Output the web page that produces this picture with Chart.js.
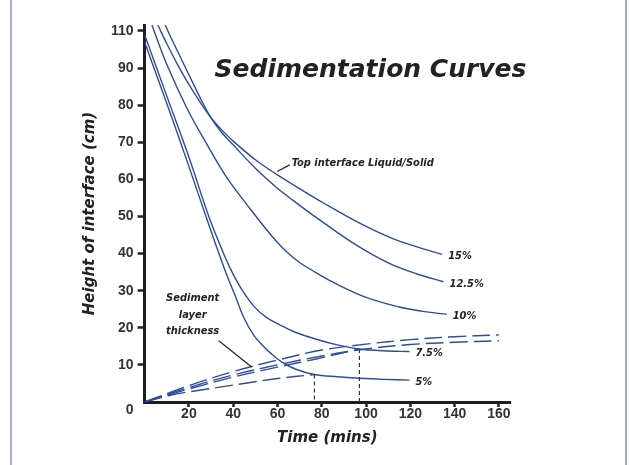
<!DOCTYPE html>
<html>
<head>
<meta charset="utf-8">
<script src="https://cdn.jsdelivr.net/npm/chart.js@4.4.1/dist/chart.umd.min.js"></script>
<style>
  html, body { margin: 0; padding: 0; background: #fff; }
  canvas { display: block; }
</style>
</head>
<body>
<canvas id="myChart" width="629" height="465"></canvas>
<script>
// curve data: time (mins) / height of interface (cm)
const t5 = [0, 10, 20, 28, 36, 41, 45, 49.5, 54, 57, 61.7, 68, 76.7, 87, 97, 108, 119.6]
const h5 = [97, 80.5, 63.5, 49.5, 36, 28.5, 22.5, 17.8, 14.8, 13.1, 10.9, 8.9, 7.4, 6.8, 6.4, 6.1, 5.9]

const t75 = [0, 10, 20, 29, 35, 39, 44, 49.5, 55, 61, 68, 77.5, 87, 97, 108, 119.6]
const h75 = [99, 82.5, 66, 50, 41, 35.6, 30.2, 25.7, 22.8, 20.8, 18.8, 16.9, 15.4, 14.3, 13.8, 13.6]

const t10 = [3.3, 10, 19.5, 27.9, 36.9, 48, 55, 60, 65, 70, 77, 85, 100, 115, 125, 136.4]
const h10 = [101.6, 91, 78.7, 69.7, 60.7, 51.8, 46.5, 43, 40, 37.6, 35, 32.3, 28.2, 25.6, 24.5, 23.6]

const t125 = [9.3, 12, 15, 20, 25, 30, 35, 40, 50, 60, 70, 80.6, 95.8, 111, 123, 135]
const h125 = [101.6, 98.1, 94.4, 88.2, 82.1, 76.6, 72.5, 69.3, 63, 57.6, 53, 48.4, 42.2, 37.2, 34.5, 32.4]

const t15 = [6, 10, 15, 20, 25, 30, 35, 40, 50, 60, 70, 80.6, 95.8, 111, 123, 134.4]
const h15 = [101.6, 96.6, 90.8, 85.6, 80.9, 76.6, 73.2, 70.3, 65.3, 61.2, 57.5, 53.7, 48.6, 44.3, 41.8, 39.8]

// sediment layer thickness (dashed)
const sedT = [0, 20, 40, 60, 80, 100, 120, 140, 160]
const sedA = [0, 4.4, 8.2, 11.3, 14.0, 15.6, 16.8, 17.6, 18.1]
const sedB = [0, 3.9, 7.3, 10.0, 12.4, 14.3, 15.5, 16.1, 16.5]
const sedCT = [0, 20, 40, 60, 77.5, 97]
const sedC = [0, 3.5, 6.7, 9.4, 11.6, 14.3]
const sedDT = [0, 12, 24, 36, 47, 61, 76.7]
const sedD = [0, 1.9, 3.1, 4.2, 5.2, 6.4, 7.4]

// vertical drop lines where sediment meets interface
const dropT = [76.7, 97]
const dropH = [7.4, 14.3]

const curveLabels = ['5%', '7.5%', '10%', '12.5%', '15%']
const xTickLabels = ['', '20', '40', '60', '80', '100', '120', '140', '160']
const yTickLabels = ['0', '10', '20', '30', '40', '50', '60', '70', '80', '90', '110']

const BLUE = '#2e4c9c'
const INK = '#222'
const TITLE_FONT = "'DejaVu Sans', sans-serif"
const NOTE_FONT = "'DejaVu Sans Condensed', 'DejaVu Sans', sans-serif"
const TICK_FONT = "'Liberation Sans', Arial, sans-serif"

function pts(t, h) {
    return t.map((x, i) => ({ x: x, y: h[i] }))
}

function curve(t, h, dashed) {
    return {
        data: pts(t, h),
        borderColor: BLUE,
        borderWidth: 1.4,
        borderDash: dashed ? [18, 6] : [],
        tension: 0.35,
        pointRadius: 0,
        fill: false
    }
}

const solid = [[t5, h5], [t75, h75], [t10, h10], [t125, h125], [t15, h15]]

const datasets = [
    curve(sedT, sedA, true),
    curve(sedT, sedB, true),
    curve(sedCT, sedC, true),
    curve(sedDT, sedD, true)
]
dropT.forEach((t, i) => {
    datasets.push({
        data: [{ x: t, y: dropH[i] }, { x: t, y: 0 }],
        borderColor: '#333',
        borderWidth: 1.2,
        borderDash: [4, 3],
        pointRadius: 0,
        tension: 0
    })
})
solid.forEach(s => datasets.push(curve(s[0], s[1], false)))

const notes = {
    id: 'notes',
    beforeDraw(chart) {
        const c = chart.ctx
        c.save()
        c.fillStyle = '#fff'
        c.fillRect(0, 0, chart.width, chart.height)
        c.strokeStyle = '#8090c4'
        c.lineWidth = 1.5
        c.beginPath()
        c.moveTo(11, 0); c.lineTo(11, chart.height)
        c.moveTo(626, 0); c.lineTo(626, chart.height)
        c.stroke()
        c.restore()
    },
    afterDatasetsDraw(chart) {
        const c = chart.ctx
        const xs = chart.scales.x, ys = chart.scales.y
        const px = v => xs.getPixelForValue(v)
        const py = v => ys.getPixelForValue(v)
        c.save()
        c.fillStyle = INK

        // main title
        c.font = 'italic bold 25px ' + TITLE_FONT
        c.textBaseline = 'alphabetic'
        c.textAlign = 'left'
        c.fillText('Sedimentation Curves', px(31.6), py(87.5))

        // end-of-curve labels
        c.font = 'italic bold 11px ' + NOTE_FONT
        c.textBaseline = 'middle'
        solid.forEach((s, i) => {
            const n = s[0].length - 1
            c.fillText(curveLabels[i], px(s[0][n]) + 6, py(s[1][n]) + 2)
        })

        // leader lines
        c.strokeStyle = INK
        c.lineWidth = 1.2
        c.beginPath()
        c.moveTo(px(59.9), py(62.1)); c.lineTo(px(65.5), py(63.9))
        c.moveTo(px(33.5), py(16.5)); c.lineTo(px(48.2), py(9.5))
        c.stroke()

        c.fillText('Top interface Liquid/Solid', px(66.4), py(64.4))
        c.textAlign = 'center'
        c.fillText('Sediment', px(21.7), py(28))
        c.fillText('layer', px(21.7), py(23.5))
        c.fillText('thickness', px(21.7), py(19.1))
        c.restore()
    }
}

const ctx = document.getElementById('myChart').getContext('2d')

const myChart = new Chart(ctx, {
    type: 'line',
    data: { datasets: datasets },
    plugins: [notes],
    options: {
        responsive: false,
        animation: false,
        layout: { padding: { left: 81, right: 119, top: 25, bottom: 18 } },
        plugins: {
            legend: { display: false },
            tooltip: { enabled: false }
        },
        scales: {
            x: {
                type: 'linear',
                min: 0,
                max: 165,
                ticks: {
                    stepSize: 20,
                    includeBounds: false,
                    autoSkip: false,
                    maxRotation: 0,
                    padding: 0,
                    color: '#333',
                    font: { family: TICK_FONT, size: 14, weight: 'bold', lineHeight: 1 },
                    callback: (v, i) => xTickLabels[i]
                },
                grid: {
                    drawOnChartArea: false,
                    tickLength: 5,
                    tickWidth: 2.5,
                    tickColor: c => (c.tick && c.tick.value === 0) ? 'rgba(0,0,0,0)' : '#222'
                },
                border: { color: '#1e1e1e', width: 3 },
                title: {
                    display: true,
                    text: 'Time (mins)',
                    color: INK,
                    padding: { top: 8, bottom: 0 },
                    font: { family: TITLE_FONT, size: 15, weight: 'bold', style: 'italic' }
                }
            },
            y: {
                min: 0,
                max: 101.6,
                ticks: {
                    stepSize: 10,
                    includeBounds: false,
                    autoSkip: false,
                    padding: 4,
                    color: '#333',
                    font: { family: TICK_FONT, size: 14, weight: 'bold' },
                    callback: (v, i) => i === 0 ? ['', yTickLabels[0]] : yTickLabels[i]
                },
                grid: {
                    drawOnChartArea: false,
                    tickLength: 7,
                    tickWidth: 2.5,
                    tickColor: c => (c.tick && c.tick.value === 0) ? 'rgba(0,0,0,0)' : '#222'
                },
                border: { color: '#1e1e1e', width: 3 },
                title: {
                    display: true,
                    text: 'Height of interface (cm)',
                    color: INK,
                    padding: { top: 0, bottom: 8 },
                    font: { family: TITLE_FONT, size: 15, weight: 'bold', style: 'italic' }
                }
            }
        }
    }
})
</script>
</body>
</html>
